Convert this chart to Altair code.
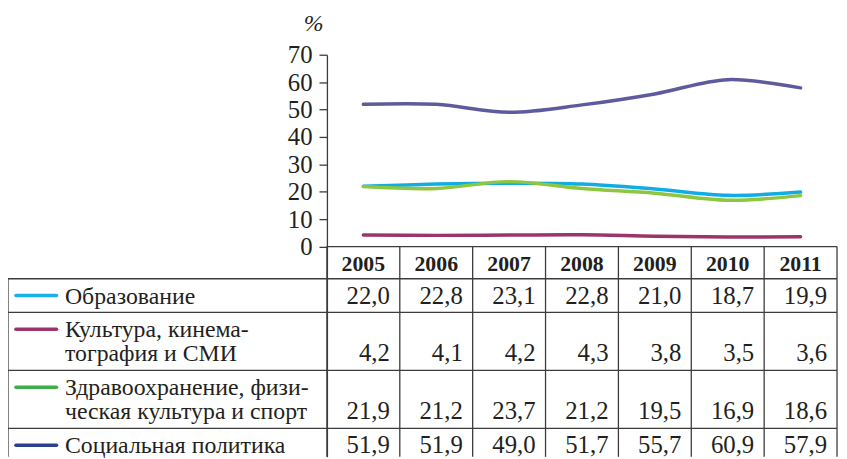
import altair as alt
import pandas as pd

# ---------------- data ----------------
years = [2005, 2006, 2007, 2008, 2009, 2010, 2011]
series_names = [
    "Образование",
    "Культура, кинематография и СМИ",
    "Здравоохранение, физическая культура и спорт",
    "Социальная политика",
]
label_lines = [
    ["Образование"],
    ["Культура, кинема-", "тография и СМИ"],
    ["Здравоохранение, физи-", "ческая культура и спорт"],
    ["Социальная политика"],
]
education = [22.0, 22.8, 23.1, 22.8, 21.0, 18.7, 19.9]
culture = [4.2, 4.1, 4.2, 4.3, 3.8, 3.5, 3.6]
health = [21.9, 21.2, 23.7, 21.2, 19.5, 16.9, 18.6]
social = [51.9, 51.9, 49.0, 51.7, 55.7, 60.9, 57.9]
y_ticks = [0, 10, 20, 30, 40, 50, 60, 70]

line_colors = ["#12ACE4", "#9B3468", "#8DC63F", "#5E5B9C"]
swatch_colors = ["#1BB0E8", "#9B3468", "#3DAE49", "#2E3F8F"]

all_values = [education, culture, health, social]

# ---------------- layout ----------------
W, H = 837, 406
LU = 4.3767                     # label column width in column units
XDOM = [-LU, len(years)]
YDOM = [-76.7, 70]              # value scale (0 at the table top)
TDOM = [-193.7, 212.3]          # table scale, pixels below the x axis line
HEADER_H = 32.5
LINE_STEP = 24.5
FONT = "'Liberation Serif', 'Times New Roman', 'DejaVu Serif', serif"
TXT = "#231F20"
GRID = "#3C3C3C"

xsc = alt.Scale(domain=XDOM, nice=False, zero=False)
tsc = alt.Scale(domain=TDOM, nice=False, zero=False, reverse=True)

# row geometry from number of text lines
row_tops = []
top = HEADER_H
for lines in label_lines:
    row_tops.append(top)
    top += 34 + LINE_STEP * (len(lines) - 1)
table_bottom = TDOM[1]

# ---------------- line chart ----------------
line_rows = []
for s, (name, vals) in enumerate(zip(series_names, all_values)):
    for yr, v in zip(years, vals):
        line_rows.append({"series": name, "year": yr, "value": v, "ord": s})
line_df = pd.DataFrame(line_rows)

lines = (
    alt.Chart(line_df)
    .transform_calculate(xc="datum.year - 2004.5")
    .mark_line(interpolate="catmull-rom", strokeWidth=3.5, strokeCap="round")
    .encode(
        x=alt.X("xc:Q", scale=xsc, axis=None),
        y=alt.Y(
            "value:Q",
            scale=alt.Scale(domain=YDOM, nice=False, zero=False),
            axis=alt.Axis(
                values=y_ticks,
                offset=-322,
                grid=False,
                domainColor=GRID,
                domainWidth=1.3,
                tickColor=GRID,
                tickWidth=1.3,
                tickSize=8,
                labelFont=FONT,
                labelFontSize=25,
                labelColor=TXT,
                labelPadding=7,
                title="%",
                titleAngle=0,
                titleFont=FONT,
                titleFontSize=24,
                titleFontStyle="italic",
                titleFontWeight="normal",
                titleColor=TXT,
                titleX=-14,
                titleY=-31,
                titleAlign="center",
                titleBaseline="middle",
            ),
        ),
        color=alt.Color(
            "series:N",
            scale=alt.Scale(domain=series_names, range=line_colors),
            legend=None,
        ),
        order=alt.Order("ord:Q"),
    )
)

# ---------------- table ----------------
header_df = pd.DataFrame({"year": years})
header = (
    alt.Chart(header_df)
    .transform_calculate(xc="datum.year - 2004.5", t="24.5")
    .mark_text(font=FONT, fontSize=22, fontWeight="bold", color=TXT,
               align="center", baseline="alphabetic")
    .encode(
        x=alt.X("xc:Q", scale=xsc, axis=None),
        y=alt.Y("t:Q", scale=tsc, axis=None),
        text="year:N",
    )
)

lab_rows = []
sw_rows = []
val_rows = []
for r, (lines_r, vals) in enumerate(zip(label_lines, all_values)):
    for k, txt in enumerate(lines_r):
        lab_rows.append({"txt": txt, "t": row_tops[r] + 25 + LINE_STEP * k})
    sw_rows.append({"series": series_names[r], "col": swatch_colors[r],
                    "t": row_tops[r] + 17})
    last = row_tops[r] + 25 + LINE_STEP * (len(lines_r) - 1)
    for yr, v in zip(years, vals):
        val_rows.append({"year": yr, "value": v, "t": last})

labels = (
    alt.Chart(pd.DataFrame(lab_rows))
    .mark_text(font=FONT, fontSize=24, color=TXT, align="left", baseline="alphabetic")
    .encode(
        x=alt.value(57.5),
        y=alt.Y("t:Q", scale=tsc, axis=None),
        text="txt:N",
    )
)

swatches = (
    alt.Chart(pd.DataFrame(sw_rows))
    .mark_rule(strokeWidth=3.5, strokeCap="round")
    .encode(
        x=alt.value(8),
        x2=alt.value(49),
        y=alt.Y("t:Q", scale=tsc, axis=None),
        color=alt.Color("col:N", scale=None),
    )
)

values_txt = (
    alt.Chart(pd.DataFrame(val_rows))
    .transform_calculate(
        xr="datum.year - 2004",
        lbl="replace(format(datum.value, '.1f'), '.', ',')",
    )
    .mark_text(font=FONT, fontSize=25, color=TXT, align="right",
               baseline="alphabetic", dx=-10)
    .encode(
        x=alt.X("xr:Q", scale=xsc, axis=None),
        y=alt.Y("t:Q", scale=tsc, axis=None),
        text="lbl:N",
    )
)

# horizontal grid lines
h_rows = [{"x1": 0, "x2": len(years), "t": 0}]
for rt in row_tops:
    h_rows.append({"x1": -LU, "x2": len(years), "t": rt})
hlines = (
    alt.Chart(pd.DataFrame(h_rows))
    .mark_rule(color=GRID, strokeWidth=1.3)
    .encode(
        x=alt.X("x1:Q", scale=xsc, axis=None),
        x2="x2:Q",
        y=alt.Y("t:Q", scale=tsc, axis=None),
    )
)

# vertical grid lines
v_rows = [{"x": k, "t1": 0, "t2": table_bottom} for k in range(len(years) + 1)]
v_rows.append({"x": -LU, "t1": row_tops[0], "t2": table_bottom})
vlines = (
    alt.Chart(pd.DataFrame(v_rows))
    .mark_rule(color=GRID, strokeWidth=1.3)
    .encode(
        x=alt.X("x:Q", scale=xsc, axis=None),
        y=alt.Y("t1:Q", scale=tsc, axis=None),
        y2="t2:Q",
    )
)

table = alt.layer(hlines, vlines, swatches, header, labels, values_txt)

chart = (
    alt.layer(lines, table)
    .resolve_scale(y="independent", color="independent")
    .properties(
        width=W,
        height=H,
        padding={"left": 0, "top": 45, "right": 2, "bottom": 0},
        autosize=alt.AutoSizeParams(type="none"),
    )
    .configure_view(stroke=None)
)

chart.save("out.html", embed_options={"renderer": "svg", "actions": False})
